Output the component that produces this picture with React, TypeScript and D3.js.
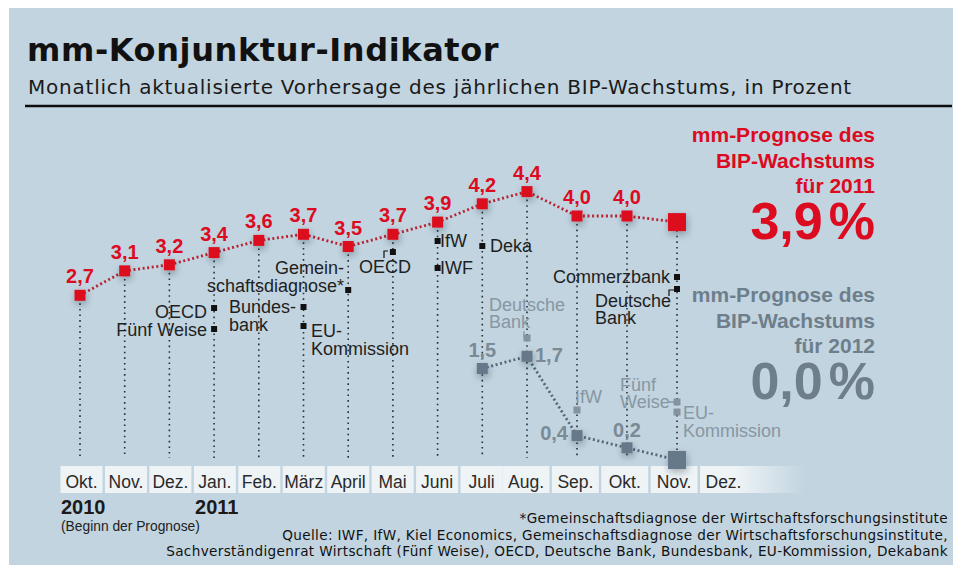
import React, { useEffect, useRef } from 'react';
import * as d3 from 'd3';

// monthly forecasts, Okt. 2010 .. Dez. 2011
const months = ['Okt.', 'Nov.', 'Dez.', 'Jan.', 'Feb.', 'März', 'April', 'Mai', 'Juni', 'Juli', 'Aug.', 'Sep.', 'Okt.', 'Nov.', 'Dez.'];
const forecast2011 = [2.7, 3.1, 3.2, 3.4, 3.6, 3.7, 3.5, 3.7, 3.9, 4.2, 4.4, 4.0, 4.0, 3.9];
const forecast2012 = [null, null, null, null, null, null, null, null, null, 1.5, 1.7, 0.4, 0.2, 0.0];
const yearLabels = ['2010', '2011'];
const yearMonths = [0, 3];

// sources that changed their forecast in a given month
const sources = [
  { month: 3, lines: ['OECD'], kind: 'black' },
  { month: 3, lines: ['Fünf Weise'], kind: 'black' },
  { month: 5, lines: ['Bundes-', 'bank'], kind: 'black' },
  { month: 5, lines: ['EU-', 'Kommission'], kind: 'black' },
  { month: 6, lines: ['Gemein-', 'schaftsdiagnose*'], kind: 'black' },
  { month: 7, lines: ['OECD'], kind: 'black' },
  { month: 8, lines: ['IfW'], kind: 'black' },
  { month: 8, lines: ['IWF'], kind: 'black' },
  { month: 9, lines: ['Deka'], kind: 'black' },
  { month: 13, lines: ['Commerzbank'], kind: 'black' },
  { month: 13, lines: ['Deutsche', 'Bank'], kind: 'black' },
  { month: 10, lines: ['Deutsche', 'Bank'], kind: 'gray' },
  { month: 11, lines: ['IfW'], kind: 'gray' },
  { month: 13, lines: ['Fünf', 'Weise'], kind: 'gray' },
  { month: 13, lines: ['EU-', 'Kommission'], kind: 'gray' },
];

// where each source note sits: square y, text x (absolute), anchor, baselines
const noteLayout = [
  { sy: 308, tx: 207, anchor: 'end', by: [318] },
  { sy: 329, tx: 207, anchor: 'end', by: [336] },
  { sy: 307, tx: 229, anchor: 'start', by: [313, 331] },
  { sy: 326, tx: 311, anchor: 'start', by: [337, 355] },
  { sy: 290, tx: 344, anchor: 'end', by: [274, 292] },
  { sy: 252, tx: 385, anchor: 'middle', by: [273], bracket: 'M384,258V251H388' },
  { sy: 241, tx: 440, anchor: 'start', by: [247] },
  { sy: 268, tx: 440, anchor: 'start', by: [274] },
  { sy: 246, tx: 490, anchor: 'start', by: [252] },
  { sy: 277, tx: 670, anchor: 'end', by: [283] },
  { sy: 289, tx: 595, anchor: 'start', by: [307, 324], bracket: 'M669,296V290H674' },
  { sy: 338, tx: 489, anchor: 'start', by: [311, 328], bracket: 'M524,331V337H528' },
  { sy: 410, tx: 575, anchor: 'start', by: [403] },
  { sy: 402, tx: 620, anchor: 'start', by: [391, 408], dash: true },
  { sy: 412, tx: 683, anchor: 'start', by: [419, 437] },
];

const RED = '#dc0b1f';
const GRAY = '#66798a';
const LIGHT = '#8797a3';
const SANS = 'Liberation Sans, Arial, sans-serif';
const VERDANA = 'DejaVu Sans, Verdana, sans-serif';

const Chart = () => {
  const svgRef = useRef(null);

  useEffect(() => {
    const width = 953;
    const height = 565;

    d3.select(svgRef.current).selectAll('*').remove();
    const svg = d3.select(svgRef.current)
      .attr('width', width)
      .attr('height', height);

    const defs = svg.append('defs');
    const shadow = defs.append('filter').attr('id', 'shadow')
      .attr('x', '-100%').attr('y', '-100%').attr('width', '300%').attr('height', '300%');
    shadow.append('feDropShadow')
      .attr('dx', 1).attr('dy', 3).attr('stdDeviation', 3.5)
      .attr('flood-color', '#1c2a36').attr('flood-opacity', 0.35);
    const fade = defs.append('linearGradient').attr('id', 'fade');
    fade.append('stop').attr('offset', '0.35').attr('stop-color', '#eef3f6').attr('stop-opacity', 1);
    fade.append('stop').attr('offset', '1').attr('stop-color', '#eef3f6').attr('stop-opacity', 0);

    // background panel
    svg.append('rect').attr('width', width).attr('height', height).attr('fill', '#fff');
    svg.append('rect').attr('x', 9).attr('y', 8).attr('width', width - 9).attr('height', height - 8)
      .attr('fill', '#c1d4e0');

    // header
    svg.append('text').attr('x', 27).attr('y', 61)
      .style('font', `bold 32px ${VERDANA}`).style('letter-spacing', '0.6px').attr('fill', '#111')
      .text('mm-Konjunktur-Indikator');
    svg.append('text').attr('x', 28).attr('y', 94)
      .style('font', `20px ${VERDANA}`).style('letter-spacing', '0.78px').attr('fill', '#1a1a1a')
      .text('Monatlich aktualisierte Vorhersage des jährlichen BIP-Wachstums, in Prozent');
    svg.append('line').attr('x1', 25).attr('x2', 952).attr('y1', 106).attr('y2', 106)
      .attr('stroke', '#0d0d0d').attr('stroke-width', 2.5);

    // scales
    const x = d3.scaleLinear().domain([0, 10, 14]).range([80, 527, 727]);
    const xBox = d3.scaleLinear().domain([0, 10, 14]).range([81.5, 526, 723.5]);
    const y = d3.scaleLinear().domain([0, 4.4]).range([460, 191.6]);

    // month boxes
    const boxes = svg.append('g');
    months.forEach((m, i) => {
      const c = xBox(i);
      const step = i < 10 ? xBox(1) - xBox(0) : xBox(11) - xBox(10);
      const last = i === months.length - 1;
      boxes.append('rect')
        .attr('x', c - step / 2 + 1.2)
        .attr('y', 466)
        .attr('width', last ? 105 : step - 2.4)
        .attr('height', 27)
        .attr('fill', last ? 'url(#fade)' : '#eef3f6');
      boxes.append('text')
        .attr('x', c).attr('y', 488)
        .attr('text-anchor', 'middle')
        .style('font', `17.5px ${SANS}`).attr('fill', '#2a2a2a')
        .text(m);
    });

    // years
    yearLabels.forEach((yl, i) => {
      svg.append('text').attr('x', x(yearMonths[i]) - 19).attr('y', 514)
        .style('font', `bold 20px ${SANS}`).attr('fill', '#1a1a1a').text(yl);
    });
    svg.append('text').attr('x', 61).attr('y', 531)
      .style('font', `13.8px ${SANS}`).attr('fill', '#222').text('(Beginn der Prognose)');

    // dotted drop lines
    svg.append('g').selectAll('line')
      .data(forecast2011)
      .enter()
      .append('line')
      .attr('x1', (d, i) => x(i)).attr('x2', (d, i) => x(i))
      .attr('y1', d => y(d) + 8).attr('y2', 458)
      .attr('stroke', '#2b2f33').attr('stroke-width', 1.6)
      .attr('stroke-dasharray', '1.6,4');

    // source notes
    const notes = svg.append('g');
    sources.forEach((s, i) => {
      const lay = noteLayout[i];
      const col = s.kind === 'gray' ? LIGHT : '#1f1f1f';
      const sq = s.kind === 'gray' ? 7 : 6;
      notes.append('rect')
        .attr('x', x(s.month) - sq / 2).attr('y', lay.sy - sq / 2)
        .attr('width', sq).attr('height', sq)
        .attr('fill', s.kind === 'gray' ? '#8393a0' : '#111');
      if (lay.bracket) {
        notes.append('path').attr('d', lay.bracket).attr('fill', 'none')
          .attr('stroke', s.kind === 'gray' ? '#8393a0' : '#111').attr('stroke-width', 1.2);
      }
      if (lay.dash) {
        notes.append('line').attr('x1', 669).attr('x2', x(s.month) - 3)
          .attr('y1', lay.sy).attr('y2', lay.sy)
          .attr('stroke', LIGHT).attr('stroke-width', 1.5);
      }
      s.lines.forEach((ln, j) => {
        notes.append('text')
          .attr('x', lay.tx).attr('y', lay.by[j])
          .attr('text-anchor', lay.anchor)
          .style('font', `18px ${SANS}`).attr('fill', col)
          .text(ln);
      });
    });

    // 2012 series (gray)
    const pts2012 = forecast2012.map((v, i) => ({ v, i })).filter(d => d.v !== null);
    const line = d3.line().x(d => x(d.i)).y(d => y(d.v));
    svg.append('path').datum(pts2012).attr('d', line)
      .attr('fill', 'none').attr('stroke', '#566876').attr('stroke-width', 2.8)
      .attr('stroke-dasharray', '2,2.6');
    svg.append('g').selectAll('rect')
      .data(pts2012)
      .enter()
      .append('rect')
      .attr('x', d => x(d.i) - (d.i === 13 ? 9 : 5.5))
      .attr('y', d => y(d.v) - (d.i === 13 ? 9 : 5.5))
      .attr('width', d => (d.i === 13 ? 18 : 11))
      .attr('height', d => (d.i === 13 ? 18 : 11))
      .attr('fill', GRAY)
      .attr('filter', 'url(#shadow)');
    const grayLabelPos = { 9: [0, -12, 'middle'], 10: [8, 6, 'start'], 11: [-9, 4, 'end'], 12: [0, -11, 'middle'] };
    svg.append('g').selectAll('text')
      .data(pts2012.filter(d => d.i !== 13))
      .enter()
      .append('text')
      .attr('x', d => x(d.i) + grayLabelPos[d.i][0])
      .attr('y', d => y(d.v) + grayLabelPos[d.i][1])
      .attr('text-anchor', d => grayLabelPos[d.i][2])
      .style('font', `bold 20px ${SANS}`).attr('fill', '#7a8a96')
      .text(d => d3.format('.1f')(d.v).replace('.', ','));

    // 2011 series (red)
    const pts2011 = forecast2011.map((v, i) => ({ v, i }));
    svg.append('path').datum(pts2011).attr('d', line)
      .attr('fill', 'none').attr('stroke', '#b92031').attr('stroke-width', 2.8)
      .attr('stroke-dasharray', '2,2.6');
    svg.append('g').selectAll('rect')
      .data(pts2011)
      .enter()
      .append('rect')
      .attr('x', d => x(d.i) - (d.i === 13 ? 9 : 5.5))
      .attr('y', d => y(d.v) - (d.i === 13 ? 9 : 5.5))
      .attr('width', d => (d.i === 13 ? 18 : 11))
      .attr('height', d => (d.i === 13 ? 18 : 11))
      .attr('fill', RED)
      .attr('filter', 'url(#shadow)');
    svg.append('g').selectAll('text')
      .data(pts2011.filter(d => d.i !== 13))
      .enter()
      .append('text')
      .attr('x', d => x(d.i))
      .attr('y', d => y(d.v) - 12)
      .attr('text-anchor', 'middle')
      .style('font', `bold 20px ${SANS}`).attr('fill', RED)
      .text(d => d3.format('.1f')(d.v).replace('.', ','));

    // headline numbers on the right
    const latest2011 = forecast2011[forecast2011.length - 1];
    const latest2012 = forecast2012[forecast2012.length - 1];
    const side = [
      { col: RED, lines: ['mm-Prognose des', 'BIP-Wachstums', 'für 2011'], value: latest2011, top: 142 },
      { col: '#6e7f8b', lines: ['mm-Prognose des', 'BIP-Wachstums', 'für 2012'], value: latest2012, top: 302 },
    ];
    side.forEach(s => {
      s.lines.forEach((ln, j) => {
        svg.append('text').attr('x', 875).attr('y', s.top + j * 25.5)
          .attr('text-anchor', 'end')
          .style('font', `bold 21px ${SANS}`).attr('fill', s.col).text(ln);
      });
      const big = svg.append('text').attr('x', 875).attr('y', s.top + 97)
        .attr('text-anchor', 'end')
        .style('font', `bold 52px ${SANS}`).attr('fill', s.col);
      big.append('tspan').text(d3.format('.1f')(s.value).replace('.', ','));
      big.append('tspan').attr('dx', 6).text('%');
    });

    // footer
    const foot = [
      '*Gemeinschaftsdiagnose der Wirtschaftsforschungsinstitute',
      'Quelle: IWF, IfW, Kiel Economics, Gemeinschaftsdiagnose der Wirtschaftsforschungsinstitute,',
      'Sachverständigenrat Wirtschaft (Fünf Weise), OECD, Deutsche Bank, Bundesbank, EU-Kommission, Dekabank',
    ];
    foot.forEach((t, j) => {
      svg.append('text').attr('x', 948).attr('y', 523 + j * 16.5)
        .attr('text-anchor', 'end')
        .style('font', `13.6px ${VERDANA}`).style('letter-spacing', '0.35px')
        .attr('fill', '#111').text(t);
    });
  }, []);

  return <svg ref={svgRef} style={{ position: 'absolute', left: 0, top: 0, display: 'block' }} />;
};

export default function App() {
  return <Chart />;
}
